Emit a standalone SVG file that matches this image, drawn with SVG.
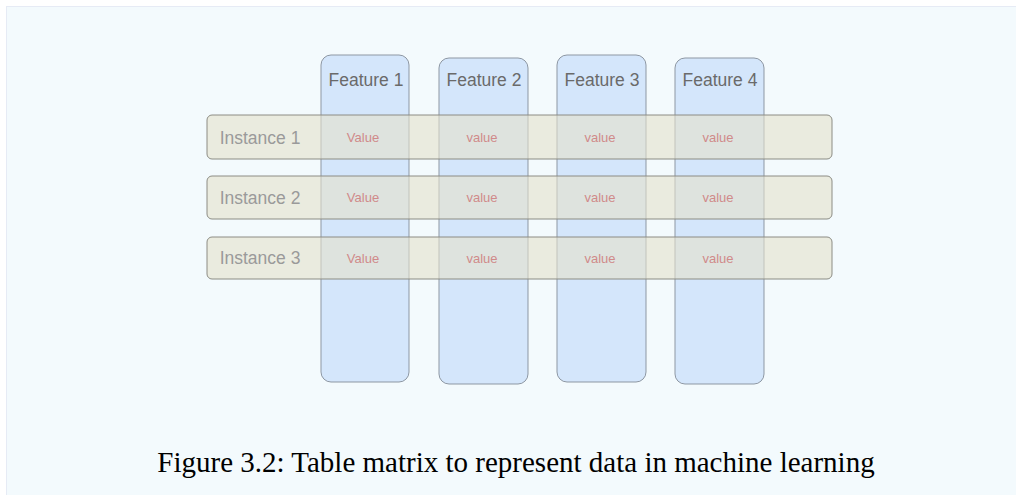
<svg xmlns="http://www.w3.org/2000/svg" width="1016" height="495" viewBox="0 0 1016 495">
<style>
.col{fill:#d4e6fb;stroke:#8d97a3;stroke-width:1}
.row{fill:#e5e1cb;fill-opacity:0.6;stroke:#8c8c84;stroke-width:1}
.ft{font-family:"Liberation Sans",Arial,sans-serif;font-size:17.5px;fill:#6a6a6a;text-anchor:middle}
.it{font-family:"Liberation Sans",Arial,sans-serif;font-size:17.5px;fill:#9a9a9a;text-anchor:middle}
.vt{font-family:"Liberation Sans",Arial,sans-serif;font-size:13px;fill:#d08a8a;text-anchor:middle}
.cap{font-family:"Liberation Serif","Times New Roman",serif;font-size:29px;fill:#000;text-anchor:middle}
</style>
<rect x="0" y="0" width="1016" height="495" fill="#ffffff"/>
<rect x="6.5" y="6.5" width="1012" height="492" fill="#f3fafd" stroke="#e6ebf5" stroke-width="1"/>
<g id="feature1"><rect class="col" x="321" y="55" width="88" height="327" rx="10"/><text class="ft" x="366" y="86">Feature 1</text></g>
<g id="feature2"><rect class="col" x="439" y="58" width="89" height="326" rx="10"/><text class="ft" x="484" y="86">Feature 2</text></g>
<g id="feature3"><rect class="col" x="557" y="55" width="89" height="327" rx="10"/><text class="ft" x="602" y="86">Feature 3</text></g>
<g id="feature4"><rect class="col" x="675" y="58" width="89" height="326" rx="10"/><text class="ft" x="720" y="86">Feature 4</text></g>
<g id="instance1"><rect class="row" x="207" y="115" width="625" height="44" rx="5"/><text class="it" x="260" y="144">Instance 1</text>
<text class="vt" x="363" y="142">Value</text><text class="vt" x="482" y="142">value</text><text class="vt" x="600" y="142">value</text><text class="vt" x="718" y="142">value</text></g>
<g id="instance2"><rect class="row" x="207" y="176" width="625" height="43" rx="5"/><text class="it" x="260" y="204">Instance 2</text>
<text class="vt" x="363" y="202">Value</text><text class="vt" x="482" y="202">value</text><text class="vt" x="600" y="202">value</text><text class="vt" x="718" y="202">value</text></g>
<g id="instance3"><rect class="row" x="207" y="237" width="625" height="42" rx="5"/><text class="it" x="260" y="264">Instance 3</text>
<text class="vt" x="363" y="263">Value</text><text class="vt" x="482" y="263">value</text><text class="vt" x="600" y="263">value</text><text class="vt" x="718" y="263">value</text></g>
<g id="connectors"></g>
<text class="cap" x="516" y="472">Figure 3.2: Table matrix to represent data in machine learning</text>
</svg>
